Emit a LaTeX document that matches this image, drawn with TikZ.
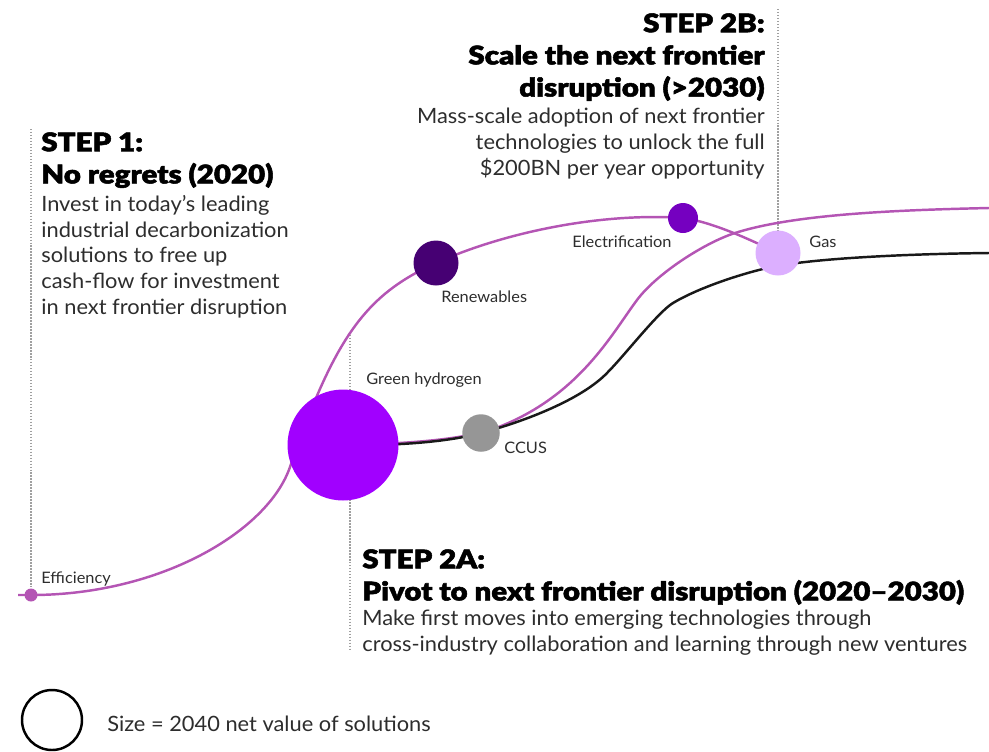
\documentclass[tikz,border=0pt]{standalone}
\usepackage{fontspec}
\setmainfont{Lato}[FakeStretch=1.035]
\newfontfamily\headfont{Lato Black}[FakeStretch=1.15, FakeBold=2]
\usetikzlibrary{backgrounds}

\definecolor{linepink}{RGB}{180,85,180}
\definecolor{purpleA}{RGB}{161,0,255}
\definecolor{purpleB}{RGB}{117,0,192}
\definecolor{purpleC}{RGB}{70,0,115}
\definecolor{lilac}{RGB}{220,175,255}
\definecolor{ccusgrey}{RGB}{150,150,150}
\definecolor{guidegrey}{RGB}{160,160,160}
\definecolor{textgrey}{RGB}{45,45,45}

\tikzset{
  bubble/.style={circle, inner sep=0pt, minimum size=#1},
  lbl/.style={font=\fontsize{9}{11}\selectfont, text=textgrey, inner sep=0pt, anchor=base west},
  head/.style={font=\headfont\fontsize{14.6}{18.3}\selectfont, inner sep=0pt},
  body/.style={font=\fontsize{12}{14.6}\selectfont, text=textgrey, inner sep=0pt},
  pinkline/.style={linepink, line width=1.4pt},
  blackline/.style={black!90, line width=1.4pt},
  guide/.style={guidegrey, line width=1.1pt, dash pattern=on 0.85pt off 0.85pt}
}

\begin{document}
\begin{tikzpicture}[x=0.02cm, y=-0.02cm]

    % Fix the frame
    \useasboundingbox (0,0) rectangle (989,751);

    % Solution bubbles
    \node[bubble=0.26cm, fill=linepink] (eff) at (31,595) {};
    \node[bubble=2.22cm, fill=purpleA] (gh) at (343,445) {};
    \node[bubble=0.9cm, fill=purpleC] (ren) at (436,263) {};
    \node[bubble=0.6cm, fill=purpleB] (elec) at (683,218) {};
    \node[bubble=0.75cm, fill=ccusgrey] (ccus) at (481,433) {};
    \node[bubble=0.9cm, fill=lilac] (gas) at (778,253) {};

    % Free ends of the curves and guides
    \coordinate (effstart) at (18,595);
    \coordinate (pinkend) at (989,208);
    \coordinate (blackend) at (989,253);
    \coordinate (s1top) at (31,129);
    \coordinate (s2atop) at (350,332);
    \coordinate (s2abot) at (350,649);
    \coordinate (s2btop) at (778,9);

    \begin{pgfonlayer}{background}
        % Dotted guides
        \draw[guide] (s1top) -- (eff.center);
        \draw[guide] (s2atop) -- (s2abot);
        \draw[guide] (s2btop) -- (gas.center);

        % Curve from Efficiency up to Gas
        \draw[pinkline] (effstart) -- (eff.center)
            .. controls (161,595) and (268,531) .. (290,467)
            .. controls (335,336.5) and (366,294.5) .. (ren.center)
            .. controls (506,231.5) and (603,212.4) .. (elec.center)
            .. controls (713,222) and (753,241) .. (gas.center);

        % Curve from Green hydrogen past CCUS
        \draw[pinkline] (gh.center)
            .. controls (400,444) and (465,440.5) .. (500,426.5)
            .. controls (580,394.5) and (612,333.5) .. (637,300)
            .. controls (657,273.2) and (705,242.6) .. (735,233)
            .. controls (795,213.8) and (900,210) .. (pinkend);

        % Black curve
        \draw[blackline] (gh.center)
            .. controls (410,446) and (455,440) .. (ccus.center)
            .. controls (526,421) and (582,399) .. (607,373)
            .. controls (625,355) and (658,312) .. (673,303)
            .. controls (698,288) and (740,274.2) .. (767,268)
            .. controls (807,258.8) and (900,254) .. (blackend);
    \end{pgfonlayer}

    % Label the bubbles
    \node[lbl] (leff) at (41,583) {Efficiency};
    \node[lbl] (lgh) at (366,384) {Green hydrogen};
    \node[lbl] (lren) at (441,302) {Renewables};
    \node[lbl] (lelec) at (572,247) {Electrification};
    \node[lbl] (lccus) at (504,453) {CCUS};
    \node[lbl] (lgas) at (809,247) {Gas};

    % Step 1
    \node[head, anchor=north west, align=left] (s1head) at (41,132) {STEP 1:\\No regrets (2020)};
    \node[body, anchor=north west, align=left] (s1body) at (41,195) {Invest in today’s leading\\industrial decarbonization\\solutions to free up\\cash-flow for investment\\in next frontier disruption};

    % Step 2B
    \node[head, anchor=north east, align=right] (s2bhead) at (765,13) {STEP 2B:\\Scale the next frontier\\disruption (>2030)};
    \node[body, anchor=north east, align=right] (s2bbody) at (765,108) {Mass-scale adoption of next frontier\\technologies to unlock the full\\\$200BN per year opportunity};

    % Step 2A
    \node[head, anchor=north west, align=left] (s2ahead) at (362,549) {STEP 2A:\\Pivot to next frontier disruption (2020–2030)};
    \node[body, anchor=north west, align=left] (s2abody) at (362,610) {Make first moves into emerging technologies through\\cross-industry collaboration and learning through new ventures};

    % Legend
    \node[bubble=1.2cm, draw=black, line width=1.4pt] (key) at (52,720) {};
    \node[body, anchor=base west] (keytext) at (107,731) {Size = 2040 net value of solutions};

\end{tikzpicture}
\end{document}
